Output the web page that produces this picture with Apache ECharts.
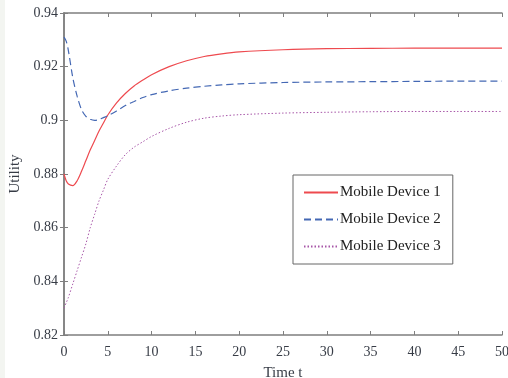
<!DOCTYPE html>
<html>
<head>
<meta charset="utf-8">
<script src="https://cdn.jsdelivr.net/npm/echarts@6/dist/echarts.min.js"></script>
<style>
  html, body { margin: 0; padding: 0; background: #fff; }
  body { background: linear-gradient(to right, #f3f5f1 0, #f3f5f1 5px, #fff 5px); }
  #chart { width: 508px; height: 378px; }
</style>
</head>
<body>
<div id="chart"></div>
<script>
const timePoints = [0, 0.25, 0.5, 1, 1.5, 2, 2.5, 3, 3.5, 4, 4.5, 5, 6, 7, 8, 9, 10, 12, 14, 16, 18, 20, 25, 30, 35, 40, 45, 50];
const device1 = [0.880, 0.8775, 0.8763, 0.8757, 0.8775, 0.881, 0.885, 0.889, 0.8925, 0.896, 0.899, 0.902, 0.9065, 0.910, 0.9128, 0.915, 0.917, 0.920, 0.9222, 0.9238, 0.9248, 0.9255, 0.9263, 0.9267, 0.9268, 0.9269, 0.9269, 0.9269];
const device2 = [0.931, 0.9295, 0.926, 0.916, 0.909, 0.904, 0.9015, 0.9004, 0.9, 0.9003, 0.901, 0.9017, 0.9035, 0.9055, 0.907, 0.9085, 0.9096, 0.911, 0.912, 0.9127, 0.9132, 0.9136, 0.9141, 0.9143, 0.9144, 0.9145, 0.9146, 0.9146];
const device3 = [0.830, 0.832, 0.834, 0.839, 0.844, 0.849, 0.854, 0.860, 0.865, 0.870, 0.874, 0.878, 0.883, 0.8872, 0.890, 0.892, 0.894, 0.897, 0.8993, 0.9008, 0.9016, 0.9021, 0.9027, 0.903, 0.9032, 0.9033, 0.9033, 0.9033];
const seriesNames = ['Mobile Device 1', 'Mobile Device 2', 'Mobile Device 3'];
const xTicks = [0, 5, 10, 15, 20, 25, 30, 35, 40, 45, 50];
const yTicks = [0.82, 0.84, 0.86, 0.88, 0.9, 0.92, 0.94];

const font = 'Liberation Serif';
const axisColor = '#7f7f7f';
const labelColor = '#373c46';

const chart = echarts.init(document.getElementById('chart'));

const pairs = vals => timePoints.map((t, i) => [t, vals[i]]);

const baseX = {
  type: 'value',
  min: xTicks[0],
  max: xTicks[xTicks.length - 1],
  interval: 5,
  axisLine: { lineStyle: { color: axisColor, width: 1.5 } },
  axisTick: { inside: true, length: 4, lineStyle: { color: axisColor } },
  splitLine: { show: false },
};
const baseY = {
  type: 'value',
  min: yTicks[0],
  max: yTicks[yTicks.length - 1],
  interval: 0.02,
  axisLine: { show: true, lineStyle: { color: axisColor, width: 1.5 } },
  axisTick: { show: true, inside: true, length: 4, lineStyle: { color: axisColor } },
  splitLine: { show: false },
};

chart.setOption({
  animation: false,
  backgroundColor: 'transparent',
  grid: { left: 64, right: 6, top: 13, bottom: 43, outerBoundsMode: 'none', containLabel: false },
  legend: {
    orient: 'vertical',
    left: 293,
    top: 175,
    padding: [10, 12, 10, 10],
    itemGap: 12,
    itemWidth: 34,
    itemHeight: 6,
    borderColor: '#666',
    borderWidth: 1,
    backgroundColor: '#fff',
    itemStyle: { opacity: 0 },
    textStyle: { fontFamily: font, fontSize: 15, color: '#222', padding: [0, 0, 0, -3] },
    data: seriesNames,
  },
  xAxis: [
    Object.assign({}, baseX, {
      position: 'bottom',
      name: 'Time t',
      nameLocation: 'middle',
      nameGap: 31,
      nameTextStyle: { fontFamily: font, fontSize: 15, color: labelColor },
      axisLabel: { fontFamily: font, fontSize: 14, color: labelColor, margin: 10 },
    }),
    Object.assign({}, baseX, {
      position: 'top',
      axisLabel: { show: false },
    }),
  ],
  yAxis: [
    Object.assign({}, baseY, {
      position: 'left',
      name: 'Utility',
      nameLocation: 'middle',
      nameGap: 37,
      nameRotate: 90,
      nameTextStyle: { fontFamily: font, fontSize: 15, color: labelColor },
      axisLabel: {
        fontFamily: font, fontSize: 14, color: labelColor, margin: 6,
        formatter: v => String(Number(v.toFixed(2))),
      },
    }),
    Object.assign({}, baseY, {
      position: 'right',
      axisLabel: { show: false },
    }),
  ],
  series: [
    {
      name: seriesNames[0],
      type: 'line',
      data: pairs(device1),
      smooth: 0.3,
      symbol: 'none',
      lineStyle: { color: '#ee4a4f', width: 1.2 },
      itemStyle: { color: '#ee4a4f' },
    },
    {
      name: seriesNames[1],
      type: 'line',
      data: pairs(device2),
      smooth: 0.3,
      symbol: 'none',
      lineStyle: { color: '#4468b4', width: 1.2, type: [7, 4] },
      itemStyle: { color: '#4468b4' },
    },
    {
      name: seriesNames[2],
      type: 'line',
      data: pairs(device3),
      smooth: 0.3,
      symbol: 'none',
      lineStyle: { color: '#a756a8', width: 1, type: [1.5, 2] },
      itemStyle: { color: '#a756a8' },
    },
  ],
});
</script>
</body>
</html>
